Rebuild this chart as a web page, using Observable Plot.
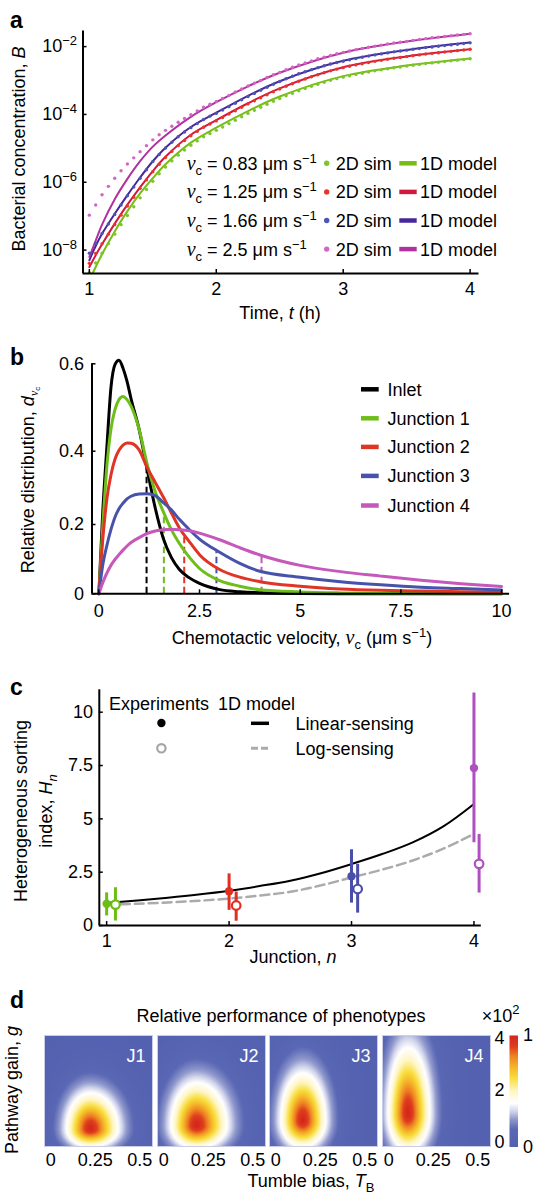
<!DOCTYPE html>
<html><head><meta charset="utf-8">
<script src="https://cdn.jsdelivr.net/npm/d3@7"></script>
<script src="https://cdn.jsdelivr.net/npm/@observablehq/plot@0.6"></script>
<style>
body{margin:0;background:#fff;}
#root{position:relative;width:534px;height:1194px;overflow:hidden;background:#fff;}
</style></head><body><div id="root"></div>
<script>
// ---------------- Panel a data (log10 of bacterial concentration) ----------------
const simTimes = [1,1.05,1.1,1.15,1.2,1.25,1.3,1.35,1.4,1.45,1.5,1.55,1.6,1.65,1.7,1.75,1.8,1.85,1.9,1.95,2,2.05,2.1,2.15,2.2,2.25,2.3,2.35,2.4,2.45,2.5,2.55,2.6,2.65,2.7,2.75,2.8,2.85,2.9,2.95,3,3.05,3.1,3.15,3.2,3.25,3.3,3.35,3.4,3.45,3.5,3.55,3.6,3.65,3.7,3.75,3.8,3.85,3.9,3.95,4];
const simLog10Green = [-8.67,-8.38,-8.09,-7.81,-7.53,-7.25,-6.98,-6.72,-6.46,-6.21,-5.97,-5.75,-5.55,-5.37,-5.20,-5.05,-4.91,-4.78,-4.66,-4.56,-4.47,-4.37,-4.27,-4.17,-4.07,-3.97,-3.88,-3.79,-3.70,-3.61,-3.53,-3.45,-3.375,-3.30,-3.235,-3.17,-3.11,-3.05,-2.995,-2.945,-2.90,-2.86,-2.82,-2.785,-2.75,-2.715,-2.685,-2.655,-2.625,-2.60,-2.575,-2.55,-2.525,-2.50,-2.48,-2.46,-2.44,-2.42,-2.40,-2.38,-2.36];
const simLog10Red = [-8.39,-8.10,-7.81,-7.53,-7.25,-6.97,-6.70,-6.44,-6.18,-5.93,-5.69,-5.47,-5.27,-5.09,-4.92,-4.77,-4.63,-4.50,-4.38,-4.28,-4.19,-4.09,-3.99,-3.89,-3.79,-3.69,-3.60,-3.51,-3.42,-3.33,-3.25,-3.17,-3.095,-3.02,-2.955,-2.89,-2.83,-2.77,-2.715,-2.665,-2.62,-2.58,-2.54,-2.505,-2.47,-2.435,-2.405,-2.375,-2.345,-2.32,-2.295,-2.27,-2.245,-2.22,-2.20,-2.18,-2.16,-2.14,-2.12,-2.10,-2.08];
const simLog10Blue = [-8.09,-7.80,-7.51,-7.23,-6.95,-6.67,-6.40,-6.14,-5.88,-5.63,-5.39,-5.18,-4.99,-4.82,-4.66,-4.52,-4.39,-4.27,-4.15,-4.05,-3.97,-3.87,-3.77,-3.67,-3.57,-3.47,-3.38,-3.29,-3.20,-3.11,-3.03,-2.95,-2.875,-2.80,-2.74,-2.68,-2.62,-2.565,-2.515,-2.47,-2.43,-2.39,-2.35,-2.315,-2.28,-2.245,-2.215,-2.185,-2.155,-2.13,-2.105,-2.08,-2.055,-2.03,-2.01,-1.99,-1.97,-1.95,-1.93,-1.91,-1.89];
const simLog10Magenta = [-6.97,-6.67,-6.37,-6.12,-5.88,-5.66,-5.46,-5.28,-5.10,-4.92,-4.75,-4.60,-4.47,-4.35,-4.23,-4.12,-4.01,-3.895,-3.79,-3.70,-3.62,-3.53,-3.44,-3.34,-3.25,-3.16,-3.08,-3.00,-2.91,-2.83,-2.76,-2.68,-2.61,-2.54,-2.48,-2.42,-2.36,-2.31,-2.26,-2.21,-2.17,-2.13,-2.09,-2.055,-2.02,-1.985,-1.955,-1.925,-1.895,-1.87,-1.845,-1.82,-1.79,-1.765,-1.74,-1.72,-1.70,-1.68,-1.66,-1.64,-1.62];
const modelTimes = [1,1.05,1.1,1.2,1.3,1.4,1.5,1.6,1.8,2,2.25,2.5,3,3.5,4];
const modelLog10Green = [-8.88,-8.5,-8.12,-7.45,-6.85,-6.33,-5.88,-5.47,-4.83,-4.39,-3.9,-3.47,-2.87,-2.56,-2.35];
const modelLog10Red = [-8.5,-8.15,-7.83,-7.22,-6.66,-6.15,-5.67,-5.25,-4.6,-4.17,-3.67,-3.23,-2.61,-2.29,-2.08];
const modelLog10Blue = [-8.3,-7.88,-7.52,-6.93,-6.38,-5.86,-5.38,-4.98,-4.37,-3.95,-3.45,-3.02,-2.42,-2.1,-1.88];
const modelLog10Magenta = [-8.2,-7.72,-7.25,-6.5,-5.9,-5.38,-4.95,-4.62,-4.07,-3.64,-3.17,-2.77,-2.18,-1.85,-1.62];
const vcLabels = ["0.83","1.25","1.66","2.5"];
const aTicksX = [1,2,3,4];
const aTicksY = [1e-8,1e-6,1e-4,1e-2];

// ---------------- Panel b data ----------------
const velocityGrid = [0,0.1,0.2,0.3,0.4,0.5,0.6,0.7,0.8,1.0,1.2,1.4,1.6,1.8,2.0,2.25,2.5,3,3.5,4,5,6,7,8,9,10];
const distInlet = [0,0.24,0.41,0.545,0.598,0.608,0.59,0.56,0.52,0.45,0.35,0.245,0.16,0.105,0.07,0.046,0.03,0.012,0.006,0.003,0.001,0.0004,0.0002,0.0001,0,0];
const distJ1 = [0,0.2,0.36,0.45,0.495,0.518,0.525,0.518,0.503,0.45,0.365,0.29,0.235,0.185,0.145,0.105,0.073,0.038,0.022,0.012,0.0055,0.0025,0.001,0.0006,0.0003,0.0002];
const distJ2 = [0,0.16,0.27,0.335,0.378,0.402,0.414,0.419,0.418,0.403,0.355,0.315,0.275,0.232,0.19,0.15,0.113,0.07,0.048,0.035,0.022,0.014,0.01,0.008,0.006,0.005];
const distJ3 = [0,0.085,0.14,0.185,0.22,0.243,0.258,0.27,0.277,0.283,0.284,0.279,0.26,0.24,0.214,0.185,0.158,0.12,0.088,0.065,0.048,0.035,0.026,0.019,0.015,0.011];
const distJ4 = [0,0.033,0.06,0.082,0.099,0.113,0.126,0.138,0.148,0.162,0.174,0.181,0.185,0.186,0.185,0.182,0.175,0.156,0.133,0.112,0.082,0.064,0.051,0.039,0.029,0.021];
const distNames = ["Inlet","Junction 1","Junction 2","Junction 3","Junction 4"];
const meanVelocity = [1.185,1.615,2.12,2.92,4.04];
const meanHeight = [0.36,0.23,0.17,0.123,0.11];
const bTicksX = [0,2.5,5,7.5,10];
const bTicksY = [0,0.2,0.4,0.6];
const bTickLabels = ["0","0.2","0.4","0.6"];
// the reference's y axis is unevenly spaced: pixel offsets of its tick marks above the baseline
const bTickOffsets = [0,69.3,142.6,230];

// ---------------- Panel c data ----------------
const junctions = [1,2,3,4];
const expMean = [1.02,1.61,2.31,7.38];
const expLow = [0.45,0.71,1.05,3.88];
const expHigh = [1.53,2.42,3.55,10.9];
const logSensX = [1.072,2.058,3.05,4.042];
const logSensMean = [0.98,0.94,1.71,2.89];
const logSensLow = [0.21,0.2,0.58,1.52];
const logSensHigh = [1.77,1.57,2.87,4.27];
const modelN = [1,1.25,1.5,1.75,2,2.25,2.5,2.75,3,3.25,3.5,3.75,4];
const linearSensing = [1.05,1.17,1.3,1.45,1.63,1.85,2.1,2.45,2.88,3.35,3.9,4.65,5.7];
const logSensing = [0.97,1.02,1.08,1.16,1.26,1.4,1.58,1.88,2.25,2.62,3.05,3.6,4.3];
const cTicksX = [1,2,3,4];
const cTicksY = [0,2.5,5,7.5,10];

// ---------------- Panel d data (phenotype performance peaks) ----------------
const junctionLabels = ["J1","J2","J3","J4"];
const peakTB = [0.222,0.184,0.152,0.107];
const peakG = [0.51,0.64,0.83,1.09];
const spreadTBLeft = [0.14,0.15,0.13,0.117];
const spreadTBRight = [0.165,0.18,0.135,0.13];
const spreadGDown = [0.72,0.9,1.06,1.44];
const spreadGUp = [1.45,1.72,1.9,2.65];
const peakShape = [1.5,1.5,1.5,1.5];
const dTicksX = [0,0.25,0.5];
const dTicksY = [0,2,4];
const colorStops = [0,0.16,0.25,0.32,0.39,0.5,0.62,0.72,0.82,0.9,1];
const colorRange = ["#5461B0","#5A67B4","#9099CD","#D2D5EB","#FFFFFF","#FFF6C6","#F8DE3A","#F5B42A","#EE7E22","#DF3F1E","#D4261C"];

// ---------------- helpers ----------------
const FONT = '"Liberation Sans", Arial, Helvetica, sans-serif';
const SERIF = '"Liberation Serif", "Times New Roman", serif';
const root = document.getElementById("root");
const baseStyle = {fontFamily: FONT, fontSize: "18px", color: "#000", background: "transparent", overflow: "visible"};
function place(svg, left, top){ svg.style.position="absolute"; svg.style.left=left+"px"; svg.style.top=top+"px"; root.appendChild(svg); return svg; }
function fixPowers(svg){
  const NS="http://www.w3.org/2000/svg";
  svg.querySelectorAll("text").forEach(t=>{
    const m=/^10\^(-?\d+)$/.exec(t.textContent); if(!m) return;
    while(t.firstChild) t.removeChild(t.firstChild);
    const a=document.createElementNS(NS,"tspan"); a.textContent="10"; t.appendChild(a);
    const b=document.createElementNS(NS,"tspan"); b.textContent=m[1].replace("-","\u2212"); b.setAttribute("dy","-7"); b.setAttribute("font-size","13"); t.appendChild(b);
  });
}

// ---------------- Panel a ----------------
const aSeries = [
  {dot:"#7DC52E", line:"#77BE13", sim:simLog10Green, model:modelLog10Green},
  {dot:"#E4362B", line:"#D5173F", sim:simLog10Red, model:modelLog10Red},
  {dot:"#4B55B3", line:"#45279B", sim:simLog10Blue, model:modelLog10Blue},
  {dot:"#D366C4", line:"#B1319F", sim:simLog10Magenta, model:modelLog10Magenta}
];
const simRows = aSeries.flatMap(s=>simTimes.map((t,i)=>({t, B:Math.pow(10,s.sim[i]), c:s.dot})));
const modelRows = aSeries.flatMap((s,k)=>modelTimes.map((t,i)=>({t, B:Math.pow(10,s.model[i]), c:s.line, k})));
const aX = [0.95,4.07], aY = [Math.pow(10,-8.69), Math.pow(10,-1.54)];
const plotA = Plot.plot({
  width:534, height:300, marginTop:30.5, marginBottom:27, marginLeft:82.5, marginRight:55.5,
  style: baseStyle,
  x:{domain:aX}, y:{type:"log", domain:aY}, color:{type:"identity"},
  marks:[
    Plot.line(modelRows,{x:"t",y:"B",z:"k",stroke:"c",strokeWidth:2,curve:"catmull-rom",clip:true}),
    Plot.dot(simRows,{x:"t",y:"B",fill:"c",r:1.7,clip:true}),
    Plot.ruleX([aX[0]],{strokeWidth:2}),
    Plot.ruleY([aY[0]],{strokeWidth:2}),
    Plot.axisX({ticks:aTicksX,tickSize:-4,tickPadding:12.6,tickFormat:d=>String(d),label:null,strokeWidth:1.5}),
    Plot.axisY({ticks:aTicksY,tickSize:-4,tickPadding:10,tickFormat:d=>"10^"+Math.round(Math.log10(d)),label:null,strokeWidth:1.5})
  ]
});
fixPowers(plotA);
place(plotA,0,0);

// ---------------- Panel b ----------------
const bColors = ["#000000","#6EBE1A","#E03424","#4752AA","#C657BB"];
const bVals = [distInlet,distJ1,distJ2,distJ3,distJ4];
const bRows = bVals.flatMap((vals,k)=>velocityGrid.map((v,i)=>({v, d:vals[i], c:bColors[k], k})));
const dashRows = meanVelocity.map((v,i)=>({v, top:meanHeight[i], c:bColors[i]}));
const bX = [-0.17,10.2];
const bWarp = d3.scaleLinear().domain(bTicksY).range(bTickOffsets);
const plotB = Plot.plot({
  width:534, height:300, marginTop:33.3, marginBottom:36.7, marginLeft:91.5, marginRight:24.9,
  style: baseStyle,
  x:{domain:bX},
  y:{transform:d=>bWarp(d), domain:[0,bTickOffsets[3]]},
  color:{type:"identity"},
  marks:[
    Plot.ruleX(dashRows,{x:"v",y1:0,y2:"top",stroke:"c",strokeWidth:2,strokeDasharray:"6.5,3.5"}),
    Plot.line(bRows,{x:"v",y:"d",z:"k",stroke:"c",strokeWidth:3,curve:"monotone-x"}),
    Plot.ruleX([bX[0]],{strokeWidth:2}),
    Plot.ruleY([0],{strokeWidth:2}),
    Plot.axisX({ticks:bTicksX,tickSize:-4,tickPadding:14.3,tickFormat:d=>String(d),label:null,strokeWidth:1.5}),
    Plot.axisY({ticks:bTickOffsets,tickSize:-4,tickPadding:12,tickFormat:d=>bTickLabels[bTickOffsets.indexOf(d)],label:null,strokeWidth:1.5})
  ]
});
place(plotB,0,330);

// ---------------- Panel c ----------------
const cColors = ["#6CBE14","#E02F22","#4A4EA8","#B04FC0"];
const expRows = junctions.map((n,i)=>({n, m:expMean[i], lo:expLow[i], hi:expHigh[i], c:cColors[i]}));
const logRows = logSensX.map((n,i)=>({n, m:logSensMean[i], lo:logSensLow[i], hi:logSensHigh[i], c:cColors[i]}));
const linRows = modelN.map((n,i)=>({n, h:linearSensing[i]}));
const lgRows = modelN.map((n,i)=>({n, h:logSensing[i]}));
const cX = [0.94,4.06];
const plotC = Plot.plot({
  width:534, height:320, marginTop:39.3, marginBottom:45, marginLeft:98.8, marginRight:53.2,
  style: baseStyle,
  x:{domain:cX}, y:{domain:[0,11.05]}, color:{type:"identity"},
  marks:[
    Plot.line(lgRows,{x:"n",y:"h",stroke:"#ABABAB",strokeWidth:2.5,strokeDasharray:"9,5",curve:"catmull-rom"}),
    Plot.line(linRows,{x:"n",y:"h",stroke:"#000",strokeWidth:2,curve:"catmull-rom"}),
    Plot.ruleX(expRows,{x:"n",y1:"lo",y2:"hi",stroke:"c",strokeWidth:3}),
    Plot.dot(expRows,{x:"n",y:"m",fill:"c",r:4.2}),
    Plot.ruleX(logRows,{x:"n",y1:"lo",y2:"hi",stroke:"c",strokeWidth:3}),
    Plot.dot(logRows,{x:"n",y:"m",stroke:"c",fill:"white",strokeWidth:2.2,r:4.3}),
    Plot.ruleX([cX[0]],{strokeWidth:2}),
    Plot.ruleY([0],{strokeWidth:2}),
    Plot.axisX({ticks:cTicksX,tickSize:-4,tickPadding:12.6,tickFormat:d=>String(d),label:null,strokeWidth:1.5}),
    Plot.axisY({ticks:cTicksY,tickSize:-4,tickPadding:10.2,tickFormat:d=>String(d),label:null,strokeWidth:1.5})
  ]
});
place(plotC,0,650);

// ---------------- Panel d ----------------
const dLefts = [44,157,269,382];
const dTop = 1035, dW = 108, dH = 111;
const dX = [-0.035,0.572], dY = [-0.165,4.096];
function performance(i,tb,g){
  const dx = (tb-peakTB[i])/(tb<peakTB[i]?spreadTBLeft[i]:spreadTBRight[i]);
  const dy = (g-peakG[i])/(g<peakG[i]?spreadGDown[i]:spreadGUp[i]);
  return Math.exp(-Math.pow(Math.sqrt(dx*dx+dy*dy),peakShape[i]));
}
junctionLabels.forEach((lab,i)=>{
  const mr = i===3?22:8, ml = 8, mt = 6, mb = 30;
  const p = Plot.plot({
    width:dW+ml+mr, height:dH+mt+mb, marginLeft:ml, marginRight:mr, marginTop:mt, marginBottom:mb,
    style: baseStyle,
    x:{domain:dX, axis:null},
    y: i===3 ? {domain:dY, axis:"right", ticks:dTicksY, tickSize:0, tickPadding:4, tickFormat:d=>String(d), label:null}
             : {domain:dY, axis:null},
    color:{type:"linear", domain:colorStops, range:colorRange},
    marks:[
      Plot.raster({fill:(x,y)=>performance(i,x,y), x1:dX[0], x2:dX[1], y1:dY[0], y2:dY[1], pixelSize:1}),
      Plot.frame({stroke:"#C9CDE8",strokeWidth:1}),
      Plot.text([lab],{frameAnchor:"top-right",dx:-7,dy:13.5,fill:"white",fontSize:18,fontFamily:FONT}),
      Plot.axisX({ticks:dTicksX,tickSize:0,tickPadding:6.9,tickFormat:d=>String(d),label:null})
    ]
  });
  place(p, dLefts[i]-ml, dTop-mt);
});
// colorbar
const cbar = Plot.plot({
  width:8.5+4+24, height:111.5+20, marginLeft:4, marginRight:24, marginTop:10, marginBottom:10,
  style: baseStyle,
  x:{domain:[0,1], axis:null},
  y:{domain:[0,1], axis:"right", ticks:[0,1], tickSize:0, tickPadding:5, tickFormat:d=>String(d), label:null},
  color:{type:"linear", domain:colorStops, range:colorRange},
  marks:[
    Plot.raster({fill:(x,y)=>y, x1:0, x2:1, y1:0, y2:1, pixelSize:0.5})
  ]
});
place(cbar, 508.5-4, 1035-10);

// ---------------- overlay text & legends ----------------
const ov = d3.create("svg").attr("width",534).attr("height",1194)
  .style("position","absolute").style("left","0px").style("top","0px").style("pointer-events","none")
  .attr("font-family",FONT).attr("font-size",18);
function rich(x,y,parts,opt={}){
  const t = ov.append("text").attr("text-anchor",opt.anchor||"start").attr("fill",opt.fill||"#000");
  if(opt.size) t.attr("font-size",opt.size);
  if(opt.weight) t.attr("font-weight",opt.weight);
  if(opt.rotate) t.attr("transform",`translate(${x},${y}) rotate(${opt.rotate})`); else t.attr("x",x).attr("y",y);
  let shift=0;
  for(const p of parts){
    const o = typeof p==="string"?{t:p}:p;
    const ts = t.append("tspan").text(o.t);
    if(o.i) ts.attr("font-style","italic");
    if(o.serif) ts.attr("font-family",SERIF);
    if(o.size) ts.attr("font-size",o.size);
    const target=o.dy||0;
    if(target!==shift){ ts.attr("dy",target-shift); shift=target; }
  }
  return t;
}
// panel letters
[["a",28],["b",365],["c",695],["d",1008]].forEach(([l,y])=>rich(10,y,[l],{weight:"bold",size:23}));
// panel a titles
rich(25,149,["Bacterial concentration, ",{t:"B",i:1}],{anchor:"middle",rotate:-90});
rich(280,319,["Time, ",{t:"t",i:1}," (h)"],{anchor:"middle"});
// panel a legend
aSeries.forEach((s,i)=>{
  const cy = 163.3+28.6*i;
  rich(186.7,cy+6.4,[{t:"v",i:1,serif:1,size:20},{t:"c",size:13,dy:5},{t:` = ${vcLabels[i]} \u03bcm s`},{t:"\u22121",size:13,dy:-7}]);
  ov.append("circle").attr("cx",326.7).attr("cy",cy).attr("r",2.7).attr("fill",s.dot);
  rich(335.7,cy+6.4,["2D sim"]);
  ov.append("line").attr("x1",399.3).attr("x2",416.7).attr("y1",cy).attr("y2",cy).attr("stroke",s.line).attr("stroke-width",4.5);
  rich(420,cy+6.4,["1D model"]);
});
// panel b titles
rich(34,480,["Relative distribution, ",{t:"d",i:1},{t:"v",i:1,serif:1,size:12,dy:4},{t:"c",size:8,dy:6}],{anchor:"middle",rotate:-90});
rich(302,644,["Chemotactic velocity, ",{t:"v",i:1,serif:1,size:20},{t:"c",size:13,dy:5},{t:" (\u03bcm s"},{t:"\u22121",size:13,dy:-7},{t:")"}],{anchor:"middle"});
// panel b legend
const bLegY = [389.3,418.3,446.9,475.9,505.5];
distNames.forEach((n,i)=>{
  ov.append("line").attr("x1",361).attr("x2",378.7).attr("y1",bLegY[i]).attr("y2",bLegY[i]).attr("stroke",bColors[i]).attr("stroke-width",4.5);
  rich(387.6,bLegY[i]+6.4,[n]);
});
// panel c titles
rich(26.5,811,["Heterogeneous sorting"],{anchor:"middle",rotate:-90});
rich(52,811,["index, ",{t:"H",i:1},{t:"n",i:1,size:13,dy:5}],{anchor:"middle",rotate:-90});
rich(293,963,["Junction, ",{t:"n",i:1}],{anchor:"middle"});
// panel c legend
rich(109,709.7,["Experiments"]);
rich(218,709.7,["1D model"]);
ov.append("circle").attr("cx",161.4).attr("cy",723).attr("r",4.2).attr("fill","#000");
ov.append("circle").attr("cx",161.4).attr("cy",748.3).attr("r",4.2).attr("fill","white").attr("stroke","#A5A5A5").attr("stroke-width",2.2);
ov.append("line").attr("x1",251).attr("x2",269).attr("y1",723.3).attr("y2",723.3).attr("stroke","#000").attr("stroke-width",3.5);
ov.append("line").attr("x1",251).attr("x2",268).attr("y1",748.3).attr("y2",748.3).attr("stroke","#ABABAB").attr("stroke-width",3).attr("stroke-dasharray","7,3");
rich(295.6,729.7,["Linear-sensing"]);
rich(295.6,754.7,["Log-sensing"]);
// panel d titles
rich(281,1021.5,["Relative performance of phenotypes"],{anchor:"middle"});
rich(481.7,1021.5,["\u00d710",{t:"2",size:13,dy:-8}]);
rich(18,1090,["Pathway gain, ",{t:"g",i:1}],{anchor:"middle",rotate:-90});
rich(311,1187,["Tumble bias, ",{t:"T",i:1},{t:"B",size:13,dy:5}],{anchor:"middle"});
root.appendChild(ov.node());
</script></body></html>
